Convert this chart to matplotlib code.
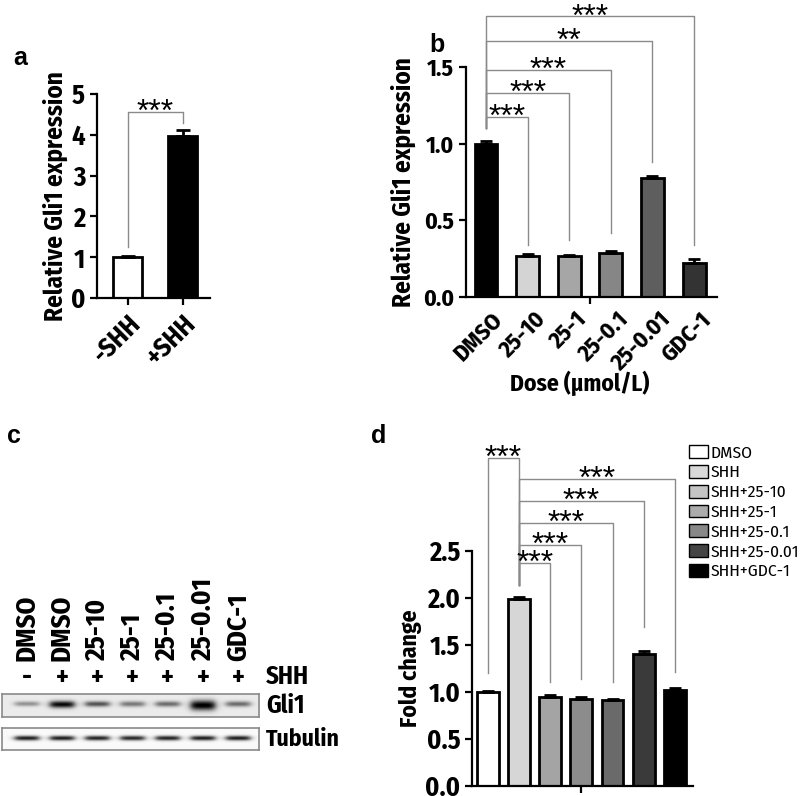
import numpy as np
import matplotlib
matplotlib.use("Agg")
import matplotlib.pyplot as plt
from matplotlib import font_manager
from matplotlib.patches import Patch


def pick_font(cands):
    for c in cands:
        if any(f.name == c and str(f.weight) in ("700", "bold") for f in font_manager.fontManager.ttflist):
            return c
    return "Liberation Sans"


NARROW = pick_font(["Liberation Sans Narrow", "Fira Sans Condensed", "Roboto Condensed",
                    "PT Sans Narrow", "Asap Condensed"])
plt.rcParams["font.family"] = [NARROW, "Liberation Sans", "DejaVu Sans"]

# ---- data ----
a_labels = ["-SHH", "+SHH"]
a_values = [1.0, 3.98]
a_errors = [0.02, 0.13]

b_labels = ["DMSO", "25-10", "25-1", "25-0.1", "25-0.01", "GDC-1"]
b_values = [1.0, 0.27, 0.265, 0.29, 0.775, 0.225]
b_errors = [0.02, 0.008, 0.008, 0.008, 0.015, 0.02]
b_stars = ["***", "***", "***", "**", "***"]
b_levels = [1.176, 1.33, 1.48, 1.67, 1.83]
b_leg_tops = [0.34, 0.37, 0.42, 0.88, 0.34]

lane_labels = ["DMSO", "DMSO", "25-10", "25-1", "25-0.1", "25-0.01", "GDC-1"]
lane_shh = ["-", "+", "+", "+", "+", "+", "+"]
gli1_intensity = [0.35, 0.9, 0.6, 0.45, 0.5, 0.95, 0.5]
gli1_thickness = [2.5, 3.5, 2.8, 2.8, 2.8, 5.0, 2.8]
tubulin_intensity = [0.9, 0.9, 0.88, 0.86, 0.88, 0.9, 0.9]

d_labels = ["DMSO", "SHH", "SHH+25-10", "SHH+25-1", "SHH+25-0.1", "SHH+25-0.01", "SHH+GDC-1"]
d_values = [1.0, 1.99, 0.95, 0.93, 0.91, 1.40, 1.02]
d_errors = [0.01, 0.025, 0.02, 0.015, 0.015, 0.04, 0.025]
d_levels = [2.37, 2.56, 2.80, 3.03, 3.27]
d_leg_tops = [1.11, 1.14, 1.11, 1.69, 1.21]

b_colors = ["#000000", "#d4d4d4", "#a6a6a6", "#868686", "#5e5e5e", "#333333"]
d_colors = ["#ffffff", "#d6d6d6", "#a4a4a4", "#8c8c8c", "#6a6a6a", "#3a3a3a", "#000000"]
d_legend_colors = ["#ffffff", "#d8d8d8", "#c4c4c4", "#acacac", "#888888", "#444444", "#000000"]

W, H = 800, 796
fig = plt.figure(figsize=(8, 7.96), dpi=100)


def ax_px(left, top, right, bottom):
    return fig.add_axes([left / W, 1 - bottom / H, (right - left) / W, (bottom - top) / H])


def style(ax, size):
    for s in ["top", "right"]:
        ax.spines[s].set_visible(False)
    for s in ["left", "bottom"]:
        ax.spines[s].set_linewidth(1.6)
    ax.tick_params(direction="out", length=5, width=1.6, labelsize=size)
    for t in ax.get_yticklabels():
        t.set_fontweight("bold")


def bracket(ax, x1, x2, y, y1, y2, stars):
    ax.plot([x1, x1, x2, x2], [y1, y, y, y2], color="#8a8a8a", lw=1, clip_on=False)
    ax.annotate(stars, xy=((x1 + x2) / 2, y), xytext=(0, -6.5), textcoords="offset points",
                ha="center", va="baseline", fontsize=23, family="Liberation Sans",
                annotation_clip=False)


def panel_letter(x, y, s):
    fig.text(x / W, 1 - y / H, s, fontsize=18, fontweight="bold", ha="center", va="center",
             family="Liberation Sans")


# ---- panel a ----
ax = ax_px(97, 94, 210, 298)
xa = np.arange(len(a_values))
ax.bar(xa, a_values, width=0.53, color=["white", "black"], edgecolor="black", linewidth=2)
ax.errorbar(xa, a_values, yerr=[np.zeros(2), a_errors], fmt="none", ecolor="black",
            elinewidth=2, capsize=5, capthick=2)
ax.set_xlim(-0.555, 1.5)
ax.set_ylim(0, 5)
ax.set_yticks(range(6))
ax.set_xticks(xa)
ax.set_xticklabels(a_labels, rotation=45, ha="right", rotation_mode="anchor",
                   fontweight="bold")
style(ax, 19)
ax.set_ylabel("Relative Gli1 expression", fontsize=18, fontweight="bold", labelpad=2)
bracket(ax, 0, 1, 4.56, 1.25, 4.3, "***")
panel_letter(20, 58, "a")

# ---- panel b ----
ax = ax_px(466, 67, 717, 297)
xb = np.arange(len(b_values))
ax.bar(xb, b_values, width=0.55, color=b_colors, edgecolor="black", linewidth=2)
ax.errorbar(xb, b_values, yerr=[np.zeros(len(xb)), b_errors], fmt="none", ecolor="black",
            elinewidth=2, capsize=4, capthick=2)
ax.set_xlim(-0.48, 5.55)
ax.set_ylim(0, 1.5)
ax.set_yticks([0, 0.5, 1.0, 1.5])
ax.set_yticklabels(["0.0", "0.5", "1.0", "1.5"])
ax.set_xticks([2.5])
ax.set_xticklabels([""])
style(ax, 17)
for i, lab in enumerate(b_labels):
    ax.annotate(lab, xy=(i, 0), xytext=(4, -8), textcoords="offset points",
                rotation=45, ha="right", va="top", rotation_mode="anchor",
                fontsize=17, fontweight="bold", annotation_clip=False)
ax.set_ylabel("Relative Gli1 expression", fontsize=18, fontweight="bold", labelpad=5)
ax.text(2.25, -0.56, "Dose (\u03bcmol/L)", fontsize=17, fontweight="bold", ha="center",
        va="center")
for k in range(5):
    bracket(ax, 0, k + 1, b_levels[k], 1.10, b_leg_tops[k], b_stars[k])
panel_letter(437, 45, "b")

# ---- panel c (western blot) ----
lane_x = 25 + 35.2 * np.arange(7)


def blot(top, bottom, intens, thick, cy, bg):
    ax = ax_px(2, top, 259, bottom)
    h = bottom - top
    xx, yy = np.meshgrid(np.arange(257) + 0.5, np.arange(h) + 0.5)
    img = np.full(xx.shape, bg)
    for cx, a, t in zip(lane_x, intens, thick):
        horiz = 1 / (1 + np.exp((np.abs(xx - cx) - 12) / 2.0))
        vert = np.exp(-((yy - cy - (t - 2.8) * 0.6) / t) ** 2)
        img = img - a * horiz * vert
    ax.imshow(np.clip(img, 0, 1), cmap="gray", vmin=0, vmax=1, aspect="auto",
              extent=[0, 257, h, 0], interpolation="bilinear")
    ax.set_xticks([])
    ax.set_yticks([])
    for s in ax.spines.values():
        s.set_color("#8a8a8a")
        s.set_linewidth(1.2)


blot(694, 717, gli1_intensity, gli1_thickness, 10, 0.92)
blot(728, 750, tubulin_intensity, [2.2] * 7, 11, 0.98)
for i in range(7):
    fig.text((2 + lane_x[i]) / W, 1 - 661 / H, lane_labels[i], rotation=90, ha="center",
             va="bottom", fontsize=19.5, fontweight="bold")
    fig.text((2 + lane_x[i]) / W, 1 - 677 / H, lane_shh[i], ha="center", va="center",
             fontsize=19, fontweight="bold")
fig.text(266 / W, 1 - 677 / H, "SHH", ha="left", va="center", fontsize=18, fontweight="bold")
fig.text(266 / W, 1 - 706 / H, "Gli1", ha="left", va="center", fontsize=18, fontweight="bold")
fig.text(266 / W, 1 - 739 / H, "Tubulin", ha="left", va="center", fontsize=17,
         fontweight="bold")
panel_letter(14, 436, "c")

# ---- panel d ----
ax = ax_px(472, 551, 693, 786)
xd = np.arange(len(d_values))
ax.bar(xd, d_values, width=0.7, color=d_colors, edgecolor="black", linewidth=2)
ax.errorbar(xd, d_values, yerr=[np.zeros(len(xd)), d_errors], fmt="none", ecolor="black",
            elinewidth=2, capsize=4, capthick=2)
ax.set_xlim(-0.51, 6.58)
ax.set_ylim(0, 2.5)
ax.set_yticks([0, 0.5, 1.0, 1.5, 2.0, 2.5])
ax.set_yticklabels(["0.0", "0.5", "1.0", "1.5", "2.0", "2.5"])
ax.set_xticks([3])
ax.set_xticklabels([""])
style(ax, 19)
ax.set_ylabel("Fold change", fontsize=17, fontweight="bold", labelpad=2)
bracket(ax, 0, 1, 3.49, 1.2, 2.14, "***")
for k in range(5):
    bracket(ax, 1, k + 2, d_levels[k], 2.14, d_leg_tops[k], "***")
handles = [Patch(facecolor=c, edgecolor="black", linewidth=1) for c in d_legend_colors]
fig.legend(handles, d_labels, loc="upper left", bbox_to_anchor=(689 / W, 1 - 445 / H),
           frameon=False, fontsize=12.5, handlelength=1.1, handleheight=0.75,
           handletextpad=0.15, labelspacing=0.22, borderpad=0, borderaxespad=0)
panel_letter(379, 436, "d")

fig.savefig("out.png", dpi=100)
